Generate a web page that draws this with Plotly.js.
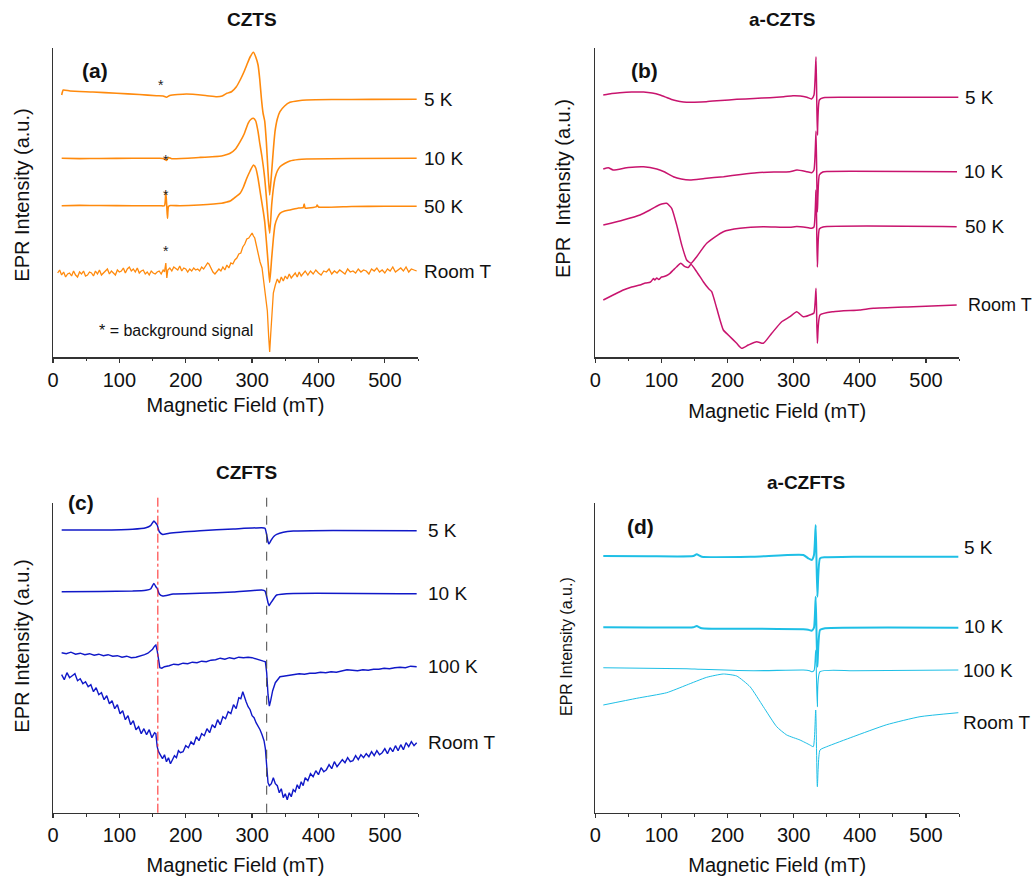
<!DOCTYPE html>
<html>
<head>
<meta charset="utf-8">
<script src="https://cdn.plot.ly/plotly-3.0.1.min.js"></script>
<style>html,body{margin:0;padding:0;background:#fff;}#chart{width:1035px;height:876px;}</style>
</head>
<body>
<div id="chart"></div>
<script>
// ---------- DATA (field in mT, intensity in arbitrary units) ----------
// Panel (a) CZTS
const a5x = [13.1,15.5,25.6,60,96,130,156,166,171,176,201,230,247,255,262,269,276,282,287,292,297,302,305.5,309,311.5,314,316.5,319,321.5,324,326.5,329.5,332,334.5,338,342,349,357,370,382,420,480,548];
const a5y = [262,267,266,265,263.7,262.5,261.3,261,259.8,261.5,263,261.5,260.3,261,263.7,265.3,270,277,284,292,300,304.7,300,292,278,258.7,244,236,215,185.3,162,185.3,207,225.3,238,245.3,251,254.7,256.3,257,257.5,257.6,257.7];
const a10x = [13.1,40,70.8,120,161,168,171,174,179,220,254,262,267,275,282,288,294,298,302,305.5,309,311.5,314.5,317,319,321.5,324,326.5,329.5,332,334.5,338,342,349,357,370,382,450,548];
const a10y = [198.7,198.4,198.5,198.7,198.7,198,196.5,199.5,198.3,199.5,201,202.5,203.7,208,215.3,223,233.7,237.5,238.7,236,225.3,214,202,190,178.7,160,138.7,123.7,152,168,178.7,186,190.3,193.5,196,197.5,198,198.5,198.7];
const a50x = [13.1,40,70.8,120,161,168,170,171.5,172.5,174,177,191,220,254,262,267,275,282,287,292,297,302,305.5,309,311.5,314.5,317,319,321.5,324,326.5,329.5,332,334.5,338,342,349,357,370,377,378.5,380,397,398,400,450,500,548];
const a50y = [151.3,151.6,151.5,151.3,151.3,151.3,165.3,150,138.7,150.5,151.5,151.3,152,153.7,155,156,160,163.7,170,178.7,186,192,189,178.7,168,155.3,145,135.3,116,95.3,74.7,98.7,118,132,139,143.7,146,147,149,149.3,153,149,150.3,152,150,150.5,150.7,150.7];
const aRTx = [7,10,13,16,19,22,25,28,31,34,37,40,43,46,49,52,55,58,61,64,67,70,73,76,79,82,85,88,91,94,97,100,103,106,109,112,115,118,121,124,127,130,133,136,139,142,145,148,151,154,157,160,163,166,168,170,171.5,173,176,179,182,185,188,191,194,197,200,203,206,209,212,215,218,221,224,227,230,233,235,238,241,244,247,250,253,256,259,262,265,268,271,274,277,280,283,286,289,292,295,298,300,302,304,306,309,312,315,318,321,323,325,326.5,328,330,332,335,338,341,344,347,350,353,356,359,362,365,368,371,374,377,380,384,388,392,396,400,404,408,412,416,420,424,428,432,436,440,444,448,452,456,460,464,468,472,476,480,484,488,492,496,500,504,508,512,516,520,524,528,532,536,540,544,548];
const aRTy = [84,87,82,85,80,83,84,81,86,82,80,85,83,86,81,82,85,84,81,86,83,87,82,84,85,88,83,86,84,82,87,85,86,89,84,88,90,86,88,85,89,84,86,87,83,85,82,86,84,83,85,86,83,87,
  85,94,79,87,
  89,86,90,88,87,91,86,89,88,85,88,86,89,87,88,86,90,88,91,94,
  93,
  89,85,83,86,88,86,90,87,92,89,94,93,97,99,103,104,110,113,118,119,122,
  124,121,119,113,
  102,95,89,73,60,
  46,20,5,22,42,64,
  72,78,74,80,76,81,78,83,79,82,84,80,85,81,83,86,
  82,86,83,87,84,82,86,85,88,83,86,84,87,85,83,88,85,86,84,88,85,87,86,83,88,86,89,85,87,84,88,86,90,85,87,89,86,90,85,88,87,86];

// Panel (b) a-CZTS
const b5x = [12,25,37,55,73,86,98,108,118,128,138,150,168,190,214,240,264,285,299,310,320,327,330.7,333.8,335.8,338.8,344.8,390,549];
const b5y = [262,263.5,264.3,265,265,264,262,259.5,257,255.5,254.7,254.8,255.3,256.5,257.7,258.5,259.3,260.3,261.3,261,259.7,258,262,300.3,222,257,259.3,259.7,259.7];
const b10x = [12,19.7,27,50,73,93,105,118,130,143,165,194,220,244,270,294,305,320,327.3,330.7,333.8,335.8,338.8,344,350,547];
const b10y = [188,189.3,187,189.5,190.3,188,185,180.3,178,177,178.5,180.3,182.5,184.3,185,185.3,187,185.3,184.3,187,226,145,182,185,185.5,185.3];
const b50x = [12.1,42.3,67.6,82.7,92,100.4,108,115.5,123.1,130.7,138.2,144.7,153.3,168.5,193.6,218.8,254,279.3,294.4,304.6,319.7,327.3,330.7,333.8,335.8,338.8,344.3,546.5];
const b50y = [132,137,142,147,150.5,153,153.7,148.7,132,112,97,93.7,100.3,113.7,125.3,128.7,130.3,129.8,129.7,130.5,129.5,128.7,130,167,90,128,130,130.3];
const bRTx = [12.1,27,42.3,55,67.6,76,82.7,85,88,90,93,96,100,104,108,113,118,123.1,129.2,135.7,140.6,144.7,153.3,163.3,170.9,176,183.6,193.6,201.1,213.8,221.4,231.4,244.1,254.1,266.8,281.9,294.4,304.6,314.5,327.3,330.7,333.8,335.8,339.8,360,400,420.4,481,546.5];
const bRTy = [57,62,67,70,72,74,74.7,76,78.5,77,79,77.5,80,80.5,81.5,83.7,87,90.3,93.7,90.3,89.5,92.7,85.3,75.3,68.7,65.3,48.7,27,22,13.7,8.7,12,15.3,13.7,23.7,35.3,40.3,45.3,40.3,42.7,44,68.7,13.7,42,45.3,47,48.7,50.3,52];

// Panel (c) CZFTS
const c5x = [13.1,70.8,120,140,147,152,155,157,160.2,165.3,175,221.5,271.7,314.5,319.4,322,324,325.5,327.5,329.5,333,337,347,362,422,548];
const c5y = [282.7,282.7,283.5,285,287,291.7,289.5,287.7,281,278.3,279.5,282,283.7,285,284.4,277.7,271,268.7,271,273.3,276.5,278.3,280.5,281.7,282.3,282];
const c10x = [13.1,70.8,120,140,147,152,155,157,160.2,165.3,181,221.5,271.7,314.5,319.4,322,324,325.5,327.5,329.5,333,337,362,548];
const c10y = [221,221.3,221.7,222.5,223.7,229.3,226,224.3,218.7,216.7,218.7,219.5,220.7,222.7,221.7,216,210,207,209,211,214.5,217.7,219.3,219];
const c100x = [13,20,27,34,41,48,55,62,69,76,83,90,97,104,111,118,125,132,138,143,147,150,153,155,157,159,161,164,168,175,182,189,196,203,210,217,224,231,238,245,252,259,266,273,280,287,294,300,306,312,317,320,322,324,326,328,331,335,342,347,355,363,371,379,387,395,403,411,419,427,435,443,451,459,467,475,483,491,499,507,515,523,531,539,548];
const c100y = [160,159,160.5,158.5,159.5,158,159,157.5,158.5,157,158,156.5,157,155.5,156.5,155,155.5,156.5,158,159.5,161.5,163.5,166.5,167.7,162,152,145,144.5,146,147,148.5,148,149.5,149,150.5,150,151.5,151,152.5,153,154.5,153.5,155,154,155.5,155,155.5,155,153.5,152,151.5,151,140,118,106.5,112,122,130,136,136.5,137.5,138,139,138.5,139.5,139.5,140.5,140,141,140.5,141.5,143,142.5,142,143,142.5,143.5,143.5,144.5,144,145,145.5,145,146.5,146];
const cRTx = [13,17,21,25,29,33,37,41,45,49,53,57,61,65,69,73,77,81,85,89,93,97,101,105,109,113,117,121,125,129,133,137,141,145,149,153,
  155,157,159,
  162,165,168,171,174,177,180,183,186,189,192,
  196,200,204,208,212,216,220,224,228,232,236,240,244,248,252,256,260,264,268,272,276,280,
  283,286,288,
  291,294,297,300,303,306,309,312,315,318,
  320,322,324,326,
  329,332,335,338,341,344,347,350,353,356,359,362,365,368,371,374,377,380,
  384,388,392,396,400,404,408,412,416,420,424,428,432,436,440,444,448,452,456,460,464,468,472,476,480,484,488,492,496,500,504,508,512,516,520,524,528,532,536,540,544,548];
const cRTy = [138,133,140,135,137,139,132,134,129,131,126,128,121,125,118,120,113,117,109,112,104,108,99,102,93,97,88,92,83,86,79,84,78,83,75,80,
  79,66,61,
  57,54,58,51,55,49,53,57,55,62,60,
  61,67,65,71,68,76,72,79,77,84,80,88,85,93,88,96,94,101,99,108,104,115,
  114,121,116,
  111,106,103,97,95,90,87,83,78,72,
  64,44,30,27,
  29,35,29,27,20,24,15,19,13,20,16,23,21,28,24,31,27,35,
  32,39,36,42,38,45,41,43,48,44,51,46,49,53,50,55,51,52,57,53,58,55,59,56,61,57,62,58,60,64,59,65,61,67,62,68,63,70,66,71,67,70];

// Panel (d) a-CZFTS
const d5x = [12.1,80,148.2,153.3,161,239,314.6,322,327.3,330.7,333.3,335.8,339.8,347.4,390,549];
const d5y = [256.7,256.5,256.7,258.4,256,256,257.7,254.4,252.7,257.7,287.7,216,254.4,255.4,256,256];
const d10x = [12.1,80,148.2,153.3,161,239,314.6,322,327.3,330.7,333.3,335.8,339.8,347.4,549];
const d10y = [185.4,185.2,185.4,186.7,184.4,184,183.4,183,182,185,216,146,182.7,184.4,185];
const d100x = [12.1,138.2,158.5,239,314.6,324,328,331,333.3,335.8,339.8,390,549];
const d100y = [145,144,143.4,142,142.7,142,141,142.5,162.7,106,141,142,142.7];
const dRTx = [12.1,62.6,108,138.2,168.5,193.6,213.8,234,254.1,274.3,289.5,309.5,324.6,329.7,333.3,335.8,339.8,350,390,440.7,491,549];
const dRTy = [107.7,114.4,120,127.7,135.4,138.7,136.7,126,106,86,77.7,72.7,67.7,66,102.7,26,62.7,66,76,88,96,100];

const labelsA = ['5 K','10 K','50 K','Room T'];
const labelsB = ['5 K','10 K','50 K','Room T'];
const labelsC = ['5 K','10 K','100 K','Room T'];
const labelsD = ['5 K','10 K','100 K','Room T'];
const panelTitles = ['CZTS','a-CZTS','CZFTS','a-CZFTS'];
const panelLetters = ['(a)','(b)','(c)','(d)'];
const starFields = [163,170,170,170];
const starLevels = [276,201,166,110];
const markerFields = [158,322];
const xTicks = [0,100,200,300,400,500];

// ---------- STYLE / LAYOUT ----------
const FONT = 'Liberation Sans, Arial, sans-serif';
const colA = '#ff8a0d', colB = '#c8146e', colC = '#1018c8', colD = '#1ebfe6';
const W = 1035, H = 876;
const px = v => v / W, py = v => 1 - v / H;

const panels = [
  {xa:'x', ya:'y', color:colA, widths:[1.6,1.6,1.6,1.3], smooth:[1,1,1,0], series:[[a5x,a5y],[a10x,a10y],[a50x,a50y],[aRTx,aRTy]], labels:labelsA, labelPx:[422,422,422,422], labelShift:[0,0,0,0], sizes:[19,19,19,19]},
  {xa:'x2', ya:'y2', color:colB, widths:[1.5,1.5,1.5,1.5], smooth:[1,1,1,1], series:[[b5x,b5y],[b10x,b10y],[b50x,b50y],[bRTx,bRTy]], labels:labelsB, labelPx:[963,962,963,966], labelShift:[0,0,0,0], sizes:[19,19,19,18]},
  {xa:'x3', ya:'y3', color:colC, widths:[1.5,1.5,1.4,1.4], smooth:[1,1,0,0], series:[[c5x,c5y],[c10x,c10y],[c100x,c100y],[cRTx,cRTy]], labels:labelsC, labelPx:[426,426,426,426], labelShift:[0,0,0,0], sizes:[19,19,19,19]},
  {xa:'x4', ya:'y4', color:colD, widths:[2,2,1.1,1.0], smooth:[1,1,1,1], series:[[d5x,d5y],[d10x,d10y],[d100x,d100y],[dRTx,dRTy]], labels:labelsD, labelPx:[962,962,961,961], labelShift:[9,1,0,-10], sizes:[19,19,19,19]}
];

const traces = [];
const annotations = [];
panels.forEach((p, i) => {
  p.series.forEach((s, j) => {
    const line = {color:p.color, width:p.widths[j]};
    if (p.smooth[j]) { line.shape = 'spline'; line.smoothing = 0.5; }
    traces.push({x:s[0], y:s[1], type:'scatter', mode:'lines', xaxis:p.xa, yaxis:p.ya,
      line:line, showlegend:false, hoverinfo:'skip'});
    const yEnd = s[1][s[1].length-1];
    annotations.push({xref:'paper', yref:p.ya, x:px(p.labelPx[j]), y:yEnd, yshift:p.labelShift[j],
      text:p.labels[j], showarrow:false, xanchor:'left', yanchor:'middle',
      font:{family:FONT, size:p.sizes[j], color:'#111'}});
  });
});

// panel titles
const titlePos = [[252,20],[782,20],[246,472],[806,482]];
panelTitles.forEach((t,i) => annotations.push({xref:'paper', yref:'paper', x:px(titlePos[i][0]), y:py(titlePos[i][1]),
  text:'<b>'+t+'</b>', showarrow:false, xanchor:'center', yanchor:'middle', font:{family:FONT, size:19, color:'#111'}}));
// panel letters
const letterPos = [[95,71],[644,70],[81,502],[640,526]];
panelLetters.forEach((t,i) => annotations.push({xref:'paper', yref:'paper', x:px(letterPos[i][0]), y:py(letterPos[i][1]),
  text:'<b>'+t+'</b>', showarrow:false, xanchor:'center', yanchor:'middle', font:{family:FONT, size:21, color:'#111'}}));
// stars in (a)
starFields.forEach((f,i) => annotations.push({xref:'x', yref:'y', x:f, y:starLevels[i], yshift:-4,
  text:'*', showarrow:false, xanchor:'center', yanchor:'middle', font:{family:FONT, size:14, color:'#222'}}));
annotations.push({xref:'x', yref:'y', x:185, y:27, text:'* = background signal', showarrow:false,
  xanchor:'center', yanchor:'middle', font:{family:FONT, size:16, color:'#111'}});

// y-axis titles (rotated annotations for precise placement)
const yTitles = [
  {x:21.7, y:195, t:'EPR Intensity (a.u.)', s:20},
  {x:563, y:189, t:'EPR&nbsp; Intensity (a.u.)', s:20},
  {x:21.7, y:646, t:'EPR Intensity (a.u.)', s:20},
  {x:566, y:647, t:'EPR Intensity (a.u.)', s:16}
];
yTitles.forEach(o => annotations.push({xref:'paper', yref:'paper', x:px(o.x), y:py(o.y), text:o.t,
  textangle:-90, showarrow:false, xanchor:'center', yanchor:'middle', font:{family:FONT, size:o.s, color:'#111'}}));

const shapes = [
  {type:'line', xref:'x3', yref:'paper', x0:markerFields[0], x1:markerFields[0], y0:py(812.7), y1:py(495),
   line:{color:'#ff2020', width:1, dash:'dashdot'}},
  {type:'line', xref:'x3', yref:'paper', x0:markerFields[1], x1:markerFields[1], y0:py(812.7), y1:py(495),
   line:{color:'#444', width:1, dash:'dash'}}
];

function xAxis(domain, anchor, standoff) {
  return {domain:domain, anchor:anchor, range:[0,550], autorange:false, showgrid:false, zeroline:false,
    showline:true, linecolor:'#333', linewidth:1.5, ticks:'outside', ticklen:4, tickwidth:1.2, tickcolor:'#333',
    tickvals:xTicks, tickfont:{family:FONT, size:20, color:'#111'},
    minor:{ticks:'outside', ticklen:2.5, tickwidth:1, tickcolor:'#333', dtick:50, tick0:0, showgrid:false},
    title:{text:'Magnetic Field (mT)', font:{family:FONT, size:20, color:'#111'}, standoff:standoff},
    automargin:false};
}
function yAxis(domain, anchor, top) {
  return {domain:domain, anchor:anchor, range:[0,top], autorange:false, showgrid:false, zeroline:false,
    showline:true, linecolor:'#333', linewidth:1.5, ticks:'', showticklabels:false, automargin:false};
}
const xdL = [px(53), px(418)], xdR = [px(595.3), px(959)];
const ydT = [py(357), py(48)], ydB = [py(812.7), py(503)];

const layout = {
  width:W, height:H, margin:{l:0, r:0, t:0, b:0}, paper_bgcolor:'#fff', plot_bgcolor:'#fff',
  font:{family:FONT, color:'#111'}, showlegend:false,
  xaxis:xAxis(xdL,'y',8), yaxis:yAxis(ydT,'x',309),
  xaxis2:xAxis(xdR,'y2',14), yaxis2:yAxis(ydT,'x2',309),
  xaxis3:xAxis(xdL,'y3',14), yaxis3:yAxis(ydB,'x3',309.7),
  xaxis4:xAxis(xdR,'y4',14), yaxis4:yAxis(ydB,'x4',309.7),
  annotations:annotations, shapes:shapes
};

Plotly.newPlot('chart', traces, layout, {displayModeBar:false, staticPlot:true});
</script>
</body>
</html>
